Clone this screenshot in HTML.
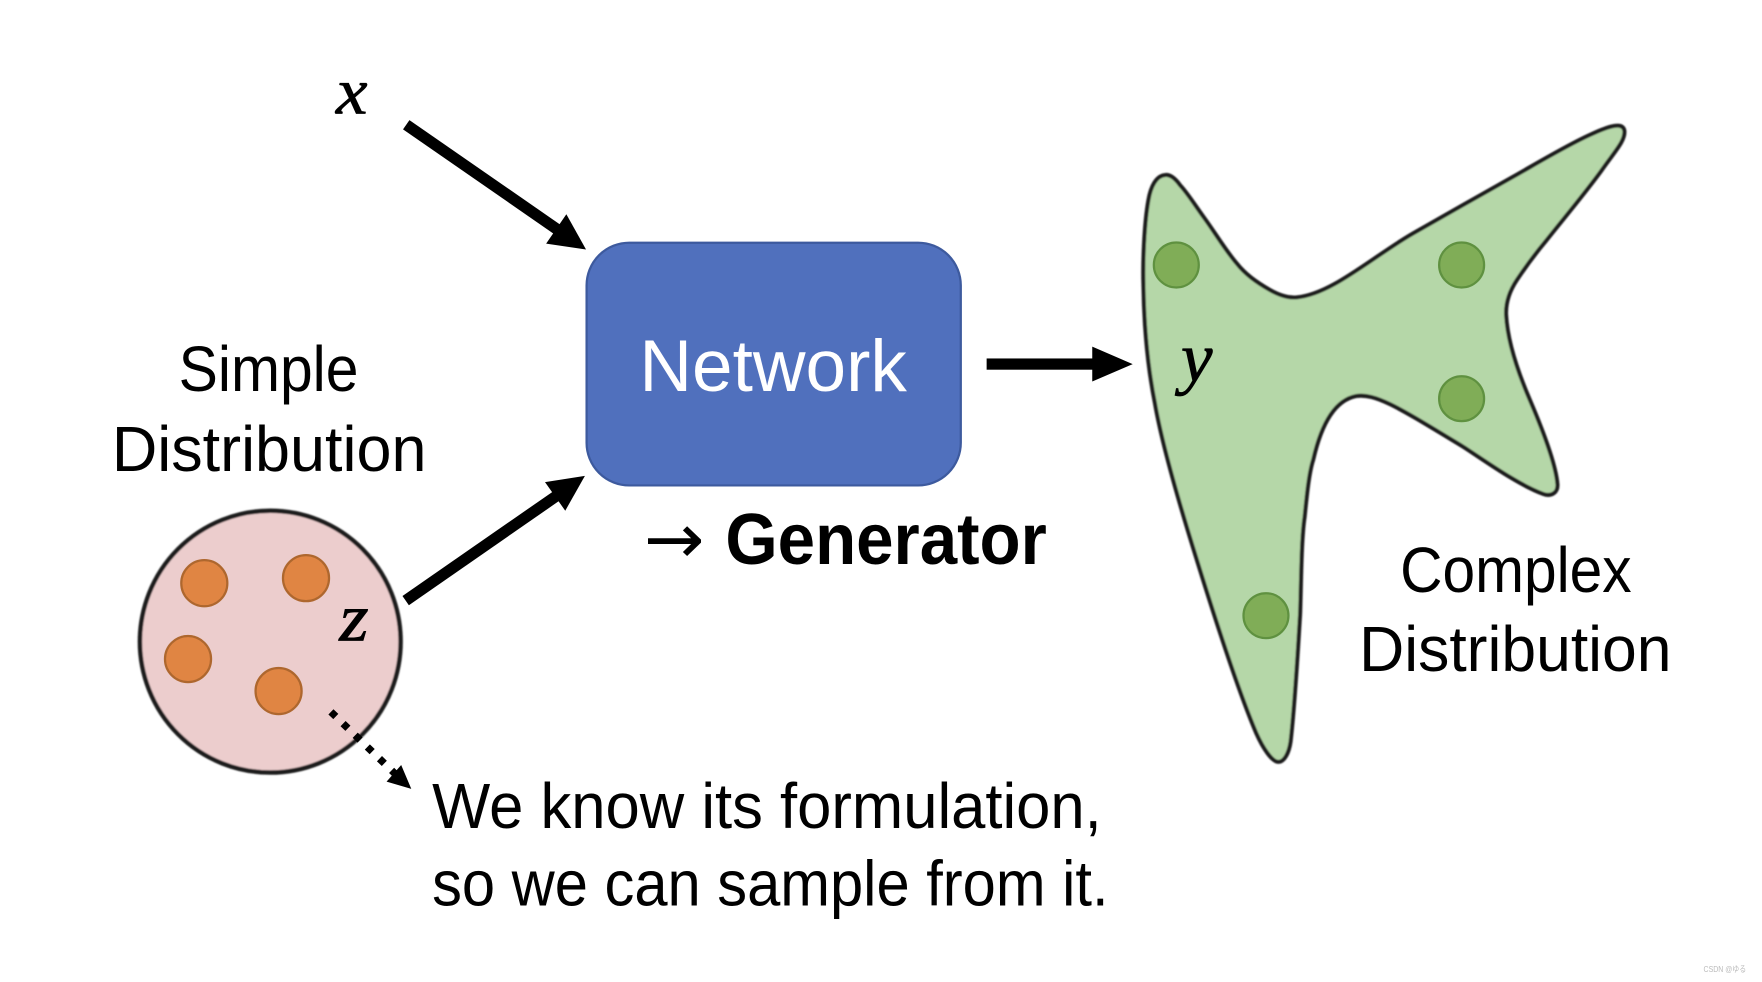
<!DOCTYPE html>
<html>
<head>
<meta charset="utf-8">
<style>
html,body{margin:0;padding:0;background:#fff;width:1762px;height:982px;overflow:hidden}
svg{display:block}
text{font-family:"Liberation Sans","Noto Sans CJK JP",sans-serif;fill:#000}
.m{font-family:"Liberation Serif",serif;font-style:italic;stroke:#000;stroke-width:.7}
</style>
</head>
<body>
<svg width="1762" height="982" viewBox="0 0 1568 873.9" xmlns="http://www.w3.org/2000/svg">
<defs><filter id="b" x="-5%" y="-5%" width="110%" height="110%"><feGaussianBlur stdDeviation="0.7"/></filter></defs>
<rect width="1568" height="874" fill="#fff"/>

<!-- simple distribution -->
<ellipse cx="240.5" cy="571" rx="116" ry="116.5" fill="#ECCDCD" stroke="#1c1c1c" stroke-width="4" filter="url(#b)"/>
<g fill="#E08543" stroke="#AE672E" stroke-width="2">
<circle cx="181.8" cy="519" r="20.5"/>
<circle cx="272.3" cy="514.5" r="20.5"/>
<circle cx="167.3" cy="586.5" r="20.5"/>
<circle cx="247.9" cy="615" r="20.5"/>
</g>

<!-- complex distribution -->
<path d="M1037.3 155.7C1029 156 1024 166 1022 178C1018 200 1017 235 1017.5 252C1018 290 1021 325 1027.8 359C1034 395 1050 450 1065 498C1078 540 1102 615 1118 652.6C1124 666 1132 678 1137.6 678C1143 678 1147 670 1148.5 660C1152 630 1155 580 1157 546C1158 515 1158 480 1161 460C1163 440 1165 420 1168.7 409C1173 390 1183 357 1207 352.4C1225 350 1245 363 1302 397.5C1320 409 1350 431 1373.4 439.6C1380 442 1386.5 439 1386 431C1385 418 1379 397 1361.5 356C1352 334 1341.5 305 1340.3 280C1339.8 268 1344 258 1350 249C1358 237 1366 226 1376.4 213.6C1392 194 1412 170 1425 152C1436 136 1447 125 1445.5 116C1444 109 1434 111 1415 120C1395 129 1370 144 1346.7 157.2C1320 172 1285 192 1257.7 207.6C1222 228 1185 262 1154 264.6C1145 265.5 1137 262 1130 258C1118 251 1108 244 1100.5 234.3C1090 222 1082 208 1070.9 192.8C1063 182 1057 172 1050 164.6C1046 159 1042 155.5 1037.3 155.7Z" fill="#B5D7A8" stroke="#1c1c1c" stroke-width="3.6" filter="url(#b)"/>
<g fill="#80AD57" stroke="#5F9140" stroke-width="2">
<circle cx="1046.8" cy="235.8" r="20"/>
<circle cx="1300.7" cy="235.8" r="20"/>
<circle cx="1300.7" cy="354.8" r="20"/>
<circle cx="1126.6" cy="547.9" r="20"/>
</g>

<!-- network -->
<rect x="522" y="216" width="333" height="216" rx="38" ry="38" fill="#5070BD" stroke="#3D5A9E" stroke-width="2"/>

<!-- arrows -->
<line x1="361.5" y1="111" x2="500" y2="207" stroke="#000" stroke-width="10"/>
<polygon points="521.5,222 504,190.7 486,216.8" fill="#000"/>
<line x1="361" y1="534.5" x2="500" y2="438" stroke="#000" stroke-width="10"/>
<polygon points="520.5,423.5 485,429 503,454.5" fill="#000"/>
<rect x="878" y="319" width="100" height="10" fill="#000"/>
<polygon points="1008,324 972,308.5 972,339.5" fill="#000"/>
<line x1="294.5" y1="633.5" x2="352" y2="689" stroke="#000" stroke-width="6.5" stroke-dasharray="6 9"/>
<polygon points="366,702 357,680.8 344,695.6" fill="#000"/>

<!-- labels -->
<text class="m" x="299" y="101" font-size="58" textLength="28" lengthAdjust="spacingAndGlyphs">x</text>
<text class="m" x="1051" y="339" font-size="62" textLength="28" lengthAdjust="spacingAndGlyphs">y</text>
<text class="m" x="302" y="570" font-size="60" textLength="26" lengthAdjust="spacingAndGlyphs">z</text>
<text x="569" y="348" font-size="65" style="fill:#fff" textLength="238" lengthAdjust="spacingAndGlyphs">Network</text>
<text x="159" y="348" font-size="57" textLength="160" lengthAdjust="spacingAndGlyphs">Simple</text>
<text x="99.5" y="419" font-size="57" textLength="280" lengthAdjust="spacingAndGlyphs">Distribution</text>
<text x="573" y="501" font-size="62" style="font-family:'DejaVu Sans',sans-serif" textLength="54" lengthAdjust="spacingAndGlyphs">→</text>
<text x="645.5" y="502" font-size="64" font-weight="700" textLength="286" lengthAdjust="spacingAndGlyphs">Generator</text>
<text x="1246" y="527" font-size="57" textLength="206" lengthAdjust="spacingAndGlyphs">Complex</text>
<text x="1209.5" y="597" font-size="57" textLength="278" lengthAdjust="spacingAndGlyphs">Distribution</text>
<text x="384.5" y="737" font-size="57" textLength="596" lengthAdjust="spacingAndGlyphs">We know its formulation,</text>
<text x="384.5" y="806" font-size="57" textLength="602" lengthAdjust="spacingAndGlyphs">so we can sample from it.</text>
<text x="1516" y="865" font-size="7.5" style="fill:#bbb" textLength="38" lengthAdjust="spacingAndGlyphs">CSDN @ゆる</text>
</svg>
</body>
</html>
